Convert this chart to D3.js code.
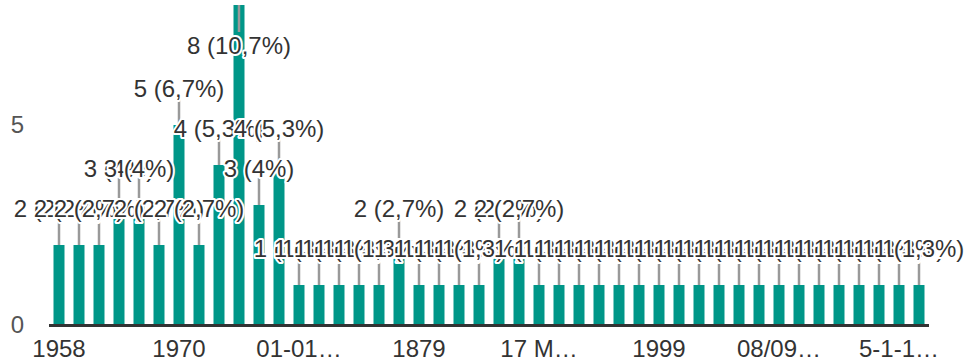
<!DOCTYPE html>
<html>
<head>
<meta charset="utf-8">
<script src="https://cdn.jsdelivr.net/npm/d3@7"></script>
<style>
  html, body { margin: 0; padding: 0; background: #fff; }
  svg { display: block; }
  text { font-family: "Liberation Sans", Arial, sans-serif; }
</style>
</head>
<body>
<div id="chart"></div>
<script>
// ---- data ----
const values = [2, 2, 2, 3, 3, 2, 5, 2, 4, 8, 3, 4,
                1, 1, 1, 1, 1, 2, 1, 1, 1, 1, 2, 2,
                1, 1, 1, 1, 1, 1, 1, 1, 1, 1, 1, 1,
                1, 1, 1, 1, 1, 1, 1, 1];
const tickLabels = ["1958", "1970", "01-01…", "1879", "17 M…", "1999", "08/09…", "5-1-1…"];
const tickEvery = 6;
const yTicks = [0, 5];
const categories = values.map((v, i) => "c" + i);

// ---- layout ----
const W = 965, H = 363;
const plotLeft = 49, plotRight = 929, plotTop = 5, plotBottom = 325;
const total = d3.sum(values);

const svg = d3.select("#chart").append("svg").attr("width", W).attr("height", H);

const x = d3.scaleBand().domain(categories).range([plotLeft, plotRight])
  .paddingInner(0.45).paddingOuter(0.225);
const y = d3.scaleLinear().domain([0, 8]).range([plotBottom, plotTop]);

const data = values.map((v, i) => ({ cat: categories[i], v }));

// y tick labels
svg.append("g").selectAll("text").data(yTicks).join("text")
  .attr("x", 24).attr("y", d => y(d)).attr("dy", "0.35em")
  .attr("text-anchor", "end").attr("font-size", 24).attr("fill", "#555")
  .text(d => d);

// bars
svg.append("g").selectAll("rect").data(data).join("rect")
  .attr("x", d => x(d.cat)).attr("width", x.bandwidth())
  .attr("y", d => y(d.v)).attr("height", d => plotBottom - y(d.v))
  .attr("fill", "#009688");

// axis line
svg.append("line").attr("x1", plotLeft).attr("x2", plotRight)
  .attr("y1", plotBottom + 0.5).attr("y2", plotBottom + 0.5)
  .attr("stroke", "#333").attr("stroke-width", 3);

// x tick labels
const tickData = tickLabels.map((t, i) => ({ t, cat: categories[i * tickEvery] }));
svg.append("g").selectAll("text").data(tickData).join("text")
  .attr("x", d => x(d.cat) + x.bandwidth() / 2).attr("y", 357)
  .attr("text-anchor", "middle").attr("font-size", 24).attr("fill", "#333")
  .text(d => d.t);

// leader lines
const flip = d => y(d.v) - 50 < 0;
svg.append("g").selectAll("line").data(data).join("line")
  .attr("x1", d => x(d.cat) + x.bandwidth() / 2)
  .attr("x2", d => x(d.cat) + x.bandwidth() / 2)
  .attr("y1", d => y(d.v))
  .attr("y2", d => flip(d) ? y(d.v) + 27 : y(d.v) - 27)
  .attr("stroke", "#999").attr("stroke-width", 2.5);

// value labels
const fmt = v => {
  const p = Math.round(v / total * 1000) / 10;
  return v + " (" + String(p).replace(".", ",") + "%)";
};
const lbl = svg.append("g");
data.forEach(d => {
  lbl.append("text")
    .attr("x", x(d.cat) + x.bandwidth() / 2)
    .attr("y", flip(d) ? y(d.v) + 49 : y(d.v) - 28.5)
    .attr("text-anchor", "middle").attr("font-size", 24)
    .attr("fill", "#333").attr("stroke", "#fff").attr("stroke-width", 4)
    .attr("stroke-linejoin", "round").attr("paint-order", "stroke")
    .text(fmt(d.v));
});
</script>
</body>
</html>
